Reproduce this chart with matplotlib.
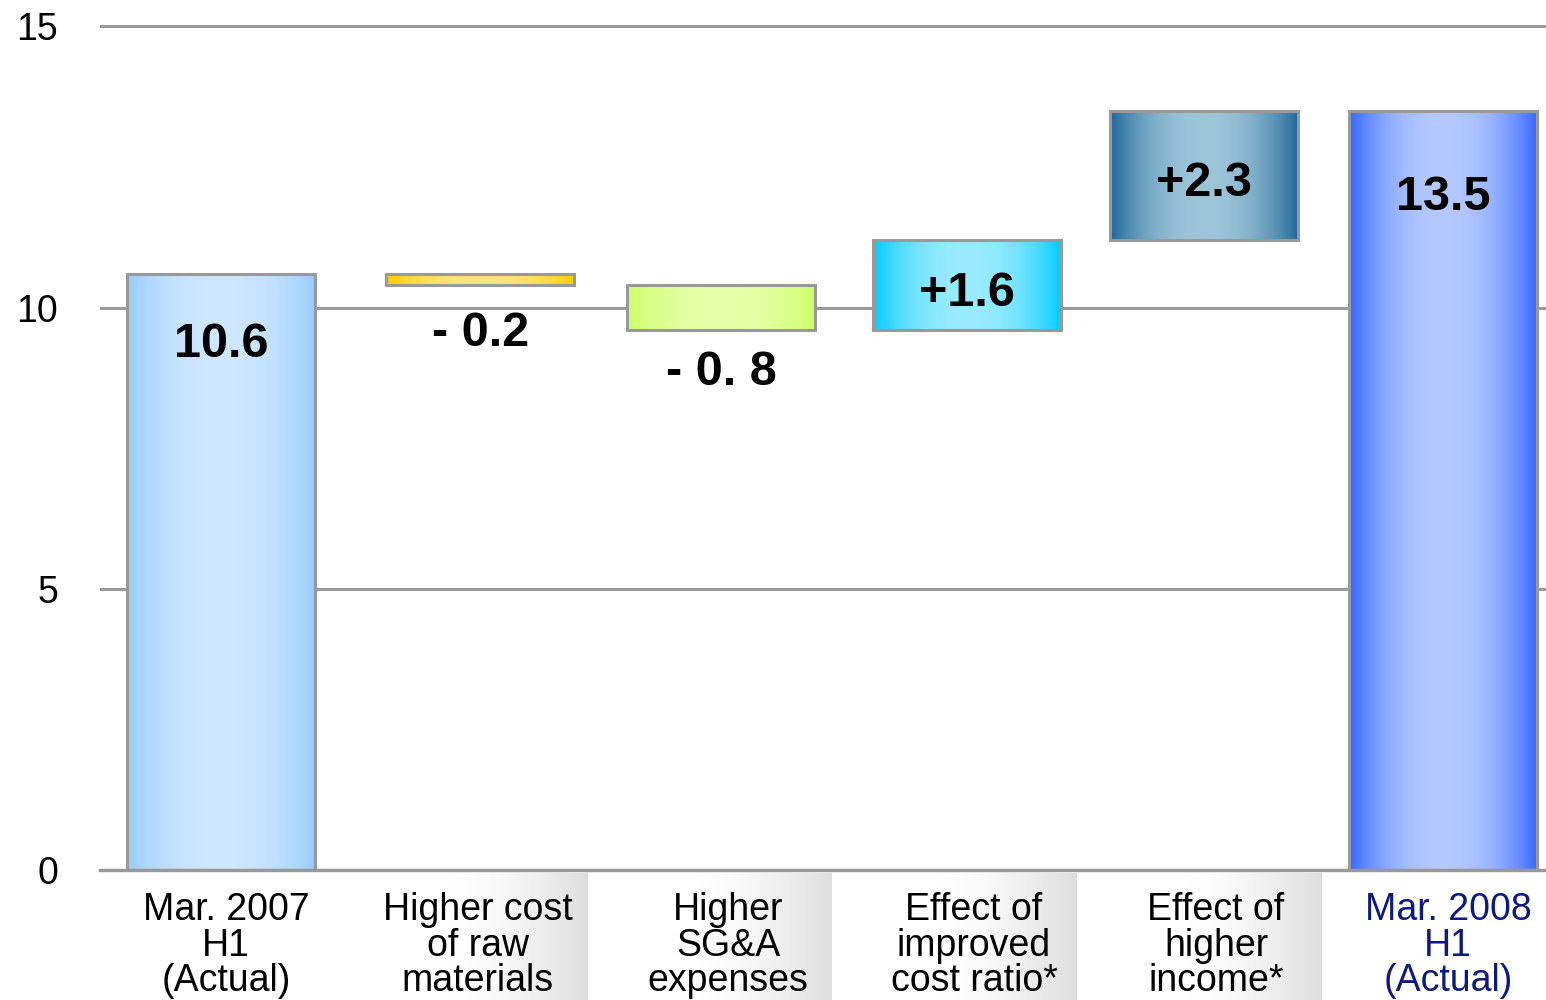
import numpy as np
import matplotlib
matplotlib.use("Agg")
import matplotlib.pyplot as plt
from matplotlib.colors import to_rgb

plt.rcParams['font.family'] = ['Liberation Sans', 'DejaVu Sans']

# ---- data -------------------------------------------------------------
categories = [
    "Mar. 2007\nH1\n(Actual)",
    "Higher cost\nof raw\nmaterials",
    "Higher\nSG&A\nexpenses",
    "Effect of\nimproved\ncost ratio*",
    "Effect of\nhigher\nincome*",
    "Mar. 2008\nH1\n(Actual)",
]
changes = [10.6, -0.2, -0.8, 1.6, 2.3, 13.5]   # first/last are totals
is_total = [True, False, False, False, False, True]
value_labels = ["10.6", "- 0.2", "- 0. 8", "+1.6", "+2.3", "13.5"]
y_ticks = [0, 5, 10, 15]

# ---- layout / styles ----------------------------------------------------
x_pos = [0.0, 1.06, 2.045, 3.05, 4.02, 5.0]       # bar slot centres
tick_shift = [0.02, -0.01, 0.03, 0.03, 0.05, 0.02]  # category text nudges
edge_colors = ["#99CCFF", "#FFCC00", "#CCFF66", "#00CCFF", "#1F6699", "#3366FF"]
center_colors = ["#CFE7FF", "#FFE680", "#E6FFAA", "#99EBFF", "#9DC5D8", "#B5C9FF"]
label_colors = ["black"] * 5 + ["#0D1A80"]
# vertical placement of value labels relative to the bar (in data units)
label_offsets = [-1.25, -0.87, -0.75, -0.95, -1.3, -1.55]
BAR_W = 0.77

fig = plt.figure(figsize=(15.46, 10.0), dpi=100)
ax = fig.add_axes([100 / 1546, 0.13, 1 - 100 / 1546, 0.855])
ax.set_zorder(2)
ax.patch.set_alpha(0)

# background shading behind the category labels
strip = fig.add_axes([100 / 1546, 0.0, 1 - 100 / 1546, 0.127])
strip.set_zorder(1)
strip.axis("off")

n = len(categories)
x = np.array(x_pos)

# waterfall bottoms / tops
bottoms, tops = [], []
running = 0.0
for v, tot in zip(changes, is_total):
    if tot:
        b, t = 0.0, v
        running = v
    else:
        new = running + v
        b, t = min(running, new), max(running, new)
        running = new
    bottoms.append(b)
    tops.append(t)
heights = [t - b for b, t in zip(bottoms, tops)]

XLIM = (-0.495, 5.42)
YLIM = (0, 15.2)

# gridlines
for yv in y_ticks[1:]:
    ax.axhline(yv, color="#999999", lw=2.2, zorder=0.5)

bars = ax.bar(x, heights, bottom=bottoms, width=BAR_W,
              facecolor="none", edgecolor="#999999", linewidth=2.2, zorder=3)

t = np.linspace(0, 1, 256)
profile = 1 - np.abs(2 * t - 1) ** 2.2
for rect, ec, cc in zip(bars, edge_colors, center_colors):
    e = np.array(to_rgb(ec))
    c = np.array(to_rgb(cc))
    img = e[None, :] + (c - e)[None, :] * profile[:, None]
    img = img[None, :, :]
    x0 = rect.get_x()
    ax.imshow(img, extent=[x0, x0 + rect.get_width(), rect.get_y(),
                           rect.get_y() + rect.get_height()],
              aspect="auto", interpolation="bilinear", zorder=2)

ax.set_xlim(*XLIM)
ax.set_ylim(*YLIM)

# value labels
for i, (lab, off) in enumerate(zip(value_labels, label_offsets)):
    if is_total[i] or changes[i] > 0:
        ypos = tops[i] + off
    else:
        ypos = bottoms[i] + off
    ax.text(x[i], ypos, lab, ha="center", va="center",
            fontsize=35, fontweight="bold", color="black", zorder=4)

# axes styling
for s in ["top", "right", "left"]:
    ax.spines[s].set_visible(False)
ax.spines["bottom"].set_color("#999999")
ax.spines["bottom"].set_linewidth(2.5)
ax.spines["bottom"].set_zorder(3.5)
ax.set_yticks(y_ticks)
ax.set_yticklabels([str(v) for v in y_ticks], fontsize=27)
ax.tick_params(axis="y", length=0, pad=30)
ax.set_xticks(x + np.array(tick_shift))
ax.set_xticklabels(categories, fontsize=27, linespacing=0.98)
ax.tick_params(axis="x", length=0, pad=16)
for tl, col in zip(ax.get_xticklabels(), label_colors):
    tl.set_color(col)

# shaded label panels
g = np.linspace(0, 1, 256)
shade = np.clip((g - 0.45) / 0.55, 0, 1) ** 1.5
gray = 1 - 0.13 * shade
panel = np.stack([gray, gray, gray], axis=-1)[None, :, :]
for i in range(1, n - 1):
    strip.imshow(panel, extent=[i - 0.5, i + 0.5, 0, 1], aspect="auto",
                 interpolation="bilinear")
strip.set_xlim(*XLIM)
strip.set_ylim(0, 1)

fig.savefig("out.png", dpi=100, facecolor="white")
